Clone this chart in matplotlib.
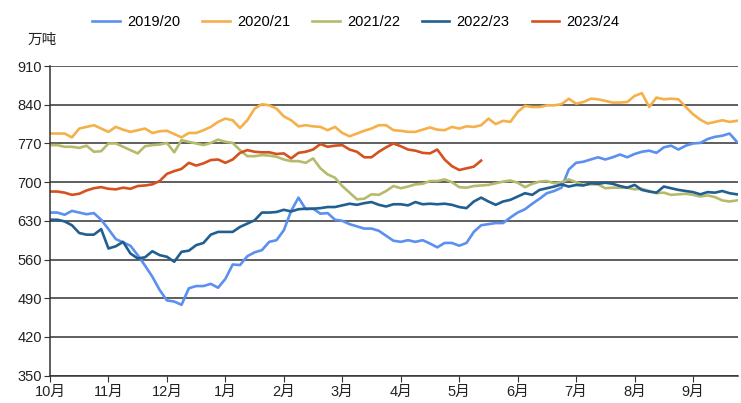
import numpy as np
import matplotlib
matplotlib.use("Agg")
import matplotlib.pyplot as plt

plt.rcParams['font.family'] = ['Liberation Sans', 'Noto Sans CJK SC', 'DejaVu Sans']

# season labels and month ticks (season starts in October)
seasons = ["2019/20", "2020/21", "2021/22", "2022/23", "2023/24"]
months = ["10月", "11月", "12月", "1月", "2月", "3月", "4月", "5月", "6月", "7月", "8月", "9月"]

# stocks in 万吨, sampled every 1/8 month from 1 October
s1920 = [645, 645, 641, 648, 645, 642, 644, 632, 615, 597, 591, 585, 568, 549, 529, 505, 486, 484, 478, 508, 512, 512, 516, 509, 525,
         551, 550, 566, 573, 577, 592, 595, 613, 648, 672, 651, 652, 643, 644, 632, 630, 624, 620, 616, 616, 612, 603, 594, 592,
         595, 592, 595, 589, 582, 590, 590, 585, 590, 610, 622, 624, 626, 626, 636, 645, 651, 661, 670, 680, 684, 690, 723, 735,
         737, 741, 745, 741, 745, 750, 745, 751, 755, 757, 753, 763, 766, 759, 766, 770, 771, 778, 782, 784, 788, 773]
s2021 = [788, 788, 788, 781, 797, 800, 803, 797, 791, 800, 795, 791, 794, 797, 789, 792, 793, 787, 781, 789, 789, 794, 800, 809, 815,
         812, 798, 812, 833, 841, 839, 833, 819, 812, 801, 803, 801, 800, 794, 800, 789, 783, 788, 793, 797, 803, 803, 794, 793,
         791, 791, 795, 799, 795, 794, 800, 797, 801, 800, 803, 815, 805, 811, 809, 827, 838, 836, 836, 839, 839, 841, 851, 842,
         845, 851, 850, 847, 844, 844, 845, 856, 861, 836, 853, 850, 851, 850, 836, 823, 813, 806, 809, 812, 809, 811]
s2122 = [767, 767, 764, 764, 762, 766, 755, 756, 770, 770, 764, 758, 752, 765, 767, 768, 771, 754, 776, 773, 770, 767, 771, 777, 773,
         771, 758, 747, 747, 749, 748, 746, 741, 738, 738, 735, 743, 725, 714, 708, 693, 681, 669, 670, 678, 677, 684, 693, 689,
         692, 696, 697, 702, 702, 705, 700, 691, 690, 693, 694, 695, 698, 701, 703, 699, 691, 697, 701, 702, 698, 700, 705, 700,
         695, 696, 696, 689, 690, 690, 690, 687, 688, 684, 680, 681, 677, 678, 679, 677, 674, 676, 673, 667, 665, 667]
s2223 = [632, 632, 629, 622, 608, 605, 605, 615, 580, 584, 592, 571, 562, 564, 575, 568, 565, 556, 574, 576, 586, 590, 605, 610, 610,
         610, 619, 625, 631, 645, 645, 646, 650, 647, 651, 652, 652, 653, 655, 655, 658, 661, 659, 662, 664, 659, 656, 660, 660,
         658, 664, 660, 661, 660, 661, 659, 655, 653, 665, 672, 665, 659, 665, 668, 674, 680, 677, 686, 689, 692, 696, 692, 695,
         694, 698, 697, 699, 697, 693, 690, 695, 686, 683, 681, 692, 689, 686, 684, 682, 678, 682, 681, 684, 680, 678]
s2324 = [683, 683, 681, 677, 679, 685, 689, 691, 688, 687, 690, 688, 693, 694, 696, 702, 715, 720, 724, 735, 730, 734, 740, 741, 735,
         741, 753, 758, 755, 754, 754, 751, 752, 743, 753, 755, 759, 769, 764, 766, 767, 759, 755, 745, 745, 755, 763, 770, 765,
         759, 757, 753, 752, 759, 741, 729, 722, 725, 728, 739]

series = [s1920, s2021, s2122, s2223, s2324]
colors = ["#5b8ff0", "#f5b04a", "#b6bb6c", "#215f90", "#d5521f"]

fig = plt.figure(figsize=(7.41, 4.03), dpi=100)
ax = fig.add_axes([0.0675, 0.068, 0.9285, 0.768])

for name, vals, c in zip(seasons, series, colors):
    x = np.arange(len(vals)) / 8.0
    ax.plot(x, vals, color=c, lw=1.9, label=name, solid_joinstyle="round")

ax.set_xlim(0, 11.77)
ax.set_ylim(350, 910)
ax.set_yticks(np.arange(350, 911, 70))
ax.set_xticks(np.arange(12))
ax.set_xticklabels(months)
ax.grid(axis="y", color="#333333", lw=1.1)
ax.set_axisbelow(True)
for side in ["top", "right"]:
    ax.spines[side].set_visible(False)
for side in ["left", "bottom"]:
    ax.spines[side].set_color("#333333")
    ax.spines[side].set_linewidth(1.1)
ax.tick_params(axis="both", labelsize=10.5, length=4, color="#333333", labelcolor="#222222")
ax.tick_params(axis="x", pad=3)
ax.tick_params(axis="y", pad=2)

fig.text(0.057, 0.90, "万吨", fontsize=10.5, ha="center", va="center", color="#222222")
fig.legend(loc="center", bbox_to_anchor=(0.48, 0.945), ncol=5, frameon=False,
           fontsize=10.5, handlelength=1.9, columnspacing=1.5, handletextpad=0.5)

fig.savefig("out.png", dpi=100)
